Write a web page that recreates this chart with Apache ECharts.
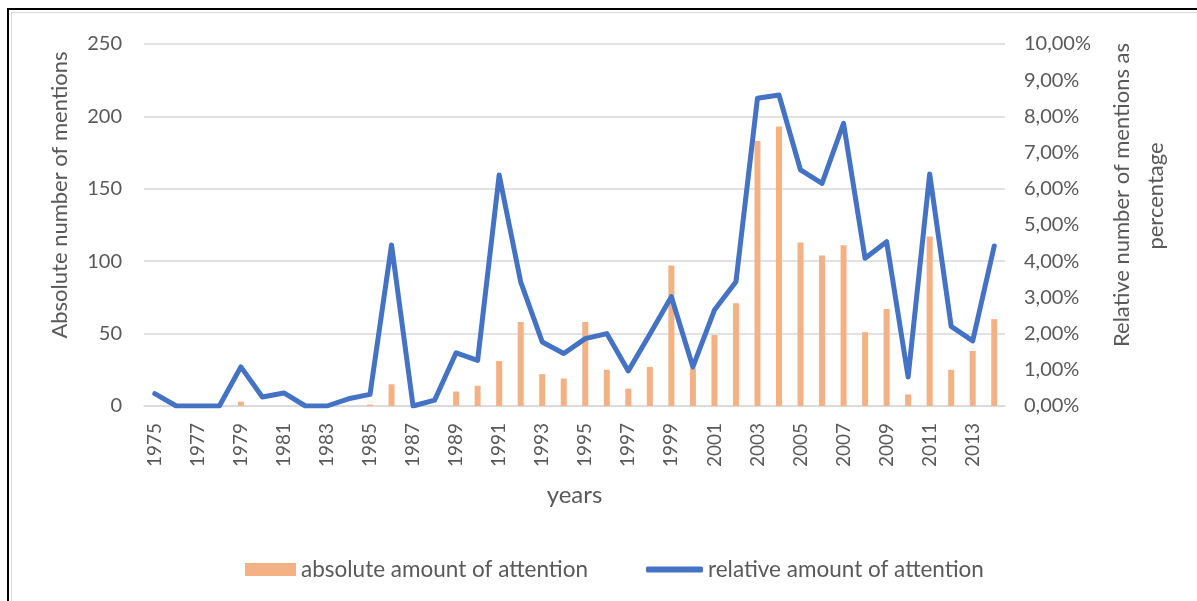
<!DOCTYPE html>
<html>
<head>
<meta charset="utf-8">
<script src="https://cdn.jsdelivr.net/npm/echarts@6/dist/echarts.min.js"></script>
<style>
  html, body { margin: 0; padding: 0; background: #fff; }
  #frame { position: absolute; left: 7px; top: 8px; width: 1200px; height: 600px;
           border: 2px solid #000; box-sizing: border-box; }
  #inner { position: absolute; left: 2px; top: 2px; right: 0; bottom: 0; border: 1px solid #d9d9d9; }
  #chart { position: absolute; left: 0; top: 0; width: 1197px; height: 601px; }
</style>
</head>
<body>
<div id="frame"><div id="inner"></div></div>
<div id="chart"></div>
<script>
// Years covered by the study
const years = [];
for (let y = 1975; y <= 2014; y++) years.push(String(y));

// Absolute number of mentions per year
const absoluteMentions = [
  0, 0, 0, 0, 3, 0, 0, 0, 0, 0,
  1, 15, 0, 0, 10, 14, 31, 58, 22, 19,
  58, 25, 12, 27, 97, 26, 49, 71, 183, 193,
  113, 104, 111, 51, 67, 8, 117, 25, 38, 60
];

// Relative number of mentions, in percent
const relativeMentions = [
  0.34, 0, 0, 0, 1.08, 0.25, 0.36, 0, 0, 0.20,
  0.32, 4.45, 0, 0.16, 1.47, 1.26, 6.38, 3.43, 1.77, 1.45,
  1.86, 2.00, 0.97, 1.98, 3.02, 1.08, 2.65, 3.43, 8.50, 8.59,
  6.52, 6.15, 7.81, 4.08, 4.54, 0.80, 6.41, 2.20, 1.80, 4.42
];

const seriesNames = ['absolute amount of attention', 'relative amount of attention'];
const leftTitle = 'Absolute number of mentions';
const rightTitle = ['Relative number of mentions as', 'percentage'];
const xTitle = 'years';

const FONT = 'Lato';
const GREY = '#595959';

// Vertical axis title, reading bottom to top, centred on (x, y)
function vTitle(text, x, y) {
  return {
    type: 'text', x: x, y: y, rotation: Math.PI / 2, silent: true,
    style: { text: text, fontFamily: FONT, fontSize: 22, fill: GREY,
             align: 'center', verticalAlign: 'middle' }
  };
}

const chart = echarts.init(document.getElementById('chart'), null, { renderer: 'canvas' });
chart.setOption({
  animation: false,
  backgroundColor: 'transparent',
  grid: { left: 144, right: 192, top: 44, bottom: 195, containLabel: false },
  legend: [
    {
      data: [seriesNames[0]], left: 240, top: 553, icon: 'rect',
      itemWidth: 51, itemHeight: 13, itemGap: 5,
      textStyle: { fontFamily: FONT, fontSize: 22.5, color: GREY }
    },
    {
      data: [seriesNames[1]], left: 641, top: 553, icon: 'roundRect',
      itemWidth: 57, itemHeight: 6, itemGap: 3,
      textStyle: { fontFamily: FONT, fontSize: 22.5, color: GREY }
    }
  ],
  graphic: [
    vTitle(leftTitle, 60, 195),
    vTitle(rightTitle[0], 1122, 195),
    vTitle(rightTitle[1], 1156, 196)
  ],
  xAxis: {
    type: 'category',
    data: years,
    boundaryGap: true,
    name: xTitle,
    nameLocation: 'middle',
    nameGap: 77,
    nameTextStyle: { fontFamily: FONT, fontSize: 24, color: GREY },
    axisLine: { lineStyle: { color: '#d9d9d9', width: 1.5 } },
    axisTick: { show: false },
    axisLabel: { interval: 1, rotate: 90, margin: 17, fontFamily: FONT, fontSize: 19, color: GREY }
  },
  yAxis: [
    {
      type: 'value', min: 0, max: 250, interval: 50,
      axisLine: { show: false }, axisTick: { show: false },
      axisLabel: { margin: 22, fontFamily: FONT, fontSize: 20, color: GREY },
      splitLine: { lineStyle: { color: '#d9d9d9', width: 1.5 } }
    },
    {
      type: 'value', min: 0, max: 10, interval: 1,
      axisLine: { show: false }, axisTick: { show: false },
      axisLabel: {
        margin: 19, fontFamily: FONT, fontSize: 20, color: GREY,
        formatter: v => v.toFixed(2).replace('.', ',') + '%'
      },
      splitLine: { show: false }
    }
  ],
  series: [
    {
      name: seriesNames[0], type: 'bar', yAxisIndex: 0,
      data: absoluteMentions, barWidth: 6,
      itemStyle: { color: '#F4B183' }
    },
    {
      name: seriesNames[1], type: 'line', yAxisIndex: 1,
      data: relativeMentions, symbol: 'none',
      lineStyle: { color: '#4472C4', width: 5, cap: 'round', join: 'round' },
      itemStyle: { color: '#4472C4' }
    }
  ]
});
</script>
</body>
</html>
